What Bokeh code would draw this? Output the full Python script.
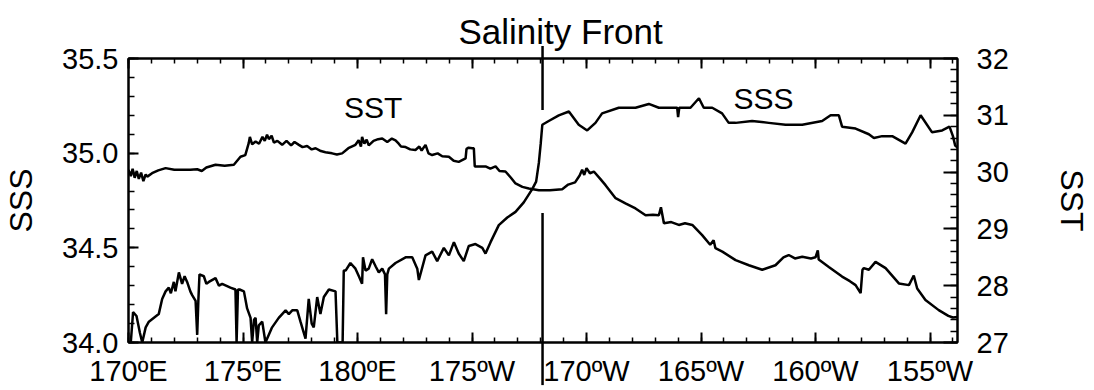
from bokeh.plotting import figure
from bokeh.models import Range1d, LinearAxis, FixedTicker, Label, PrintfTickFormatter
from bokeh.embed import file_html
from bokeh.resources import INLINE

FONT = "Liberation Sans"

# ---------------- data (longitude in degrees east, 180 = dateline) ----------------
lon_sst = [170.00, 170.10, 170.18, 170.27, 170.36, 170.45, 170.55, 170.65, 170.75, 170.82,
           171.03, 171.30, 171.62, 172.00, 172.34, 172.70, 173.00, 173.20, 173.40, 173.80,
           174.20, 174.60, 174.89, 175.10, 175.25, 175.30, 175.40, 175.55, 175.70, 175.85,
           175.95, 176.05, 176.13, 176.25, 176.35, 176.50, 176.71, 176.90, 177.10, 177.25,
           177.44, 177.60, 177.80, 178.00, 178.17, 178.40, 178.60, 178.89, 179.10, 179.33,
           179.60, 179.91, 180.05, 180.15, 180.20, 180.30, 180.40, 180.49, 180.70, 180.90,
           181.08, 181.30, 181.50, 181.66, 181.80, 181.90, 182.10, 182.30, 182.53, 182.70,
           182.80, 182.97, 183.10, 183.26, 183.50, 183.70, 183.99, 184.20, 184.42, 184.72,
           184.76, 184.85, 185.01, 185.08, 185.12, 185.35, 185.59, 185.80, 186.03, 186.20,
           186.46, 186.70, 186.90, 187.20, 187.48, 187.92, 188.40, 188.94, 189.20, 189.50,
           189.70, 189.81, 189.90, 190.00, 190.15, 190.32, 190.60, 190.83, 191.27, 191.70,
           192.14, 192.58, 192.90, 193.16, 193.25, 193.38, 193.70, 194.03, 194.30, 194.62,
           195.05, 195.40, 195.55, 195.63, 195.93, 196.51, 197.09, 197.67, 198.25, 198.60,
           198.83, 199.10, 199.42, 199.80, 200.00, 200.10, 200.14, 200.58, 201.16, 201.50,
           201.75, 201.97, 202.05, 202.11, 202.33, 202.62, 203.06, 203.64, 204.08, 204.29,
           204.44, 204.80, 205.38, 205.80, 206.00, 206.20]
sst = [30.04, 29.93, 30.06, 29.90, 30.02, 29.88, 29.99, 29.84, 29.96, 29.92,
       29.98, 30.03, 30.07, 30.04, 30.04, 30.04, 30.05, 30.02, 30.08, 30.13,
       30.11, 30.13, 30.27, 30.30, 30.51, 30.62, 30.49, 30.54, 30.50, 30.62,
       30.55, 30.66, 30.58, 30.64, 30.52, 30.55, 30.48, 30.55, 30.47, 30.53,
       30.48, 30.44, 30.46, 30.40, 30.42, 30.37, 30.35, 30.33, 30.31, 30.33,
       30.42, 30.48, 30.56, 30.45, 30.62, 30.50, 30.57, 30.47, 30.55, 30.58,
       30.59, 30.53, 30.59, 30.56, 30.50, 30.45, 30.44, 30.40, 30.39, 30.45,
       30.38, 30.48, 30.33, 30.30, 30.33, 30.28, 30.27, 30.20, 30.18, 30.24,
       30.41, 30.43, 30.42, 30.42, 30.10, 30.10, 30.10, 30.06, 30.10, 30.02,
       30.01, 29.90, 29.80, 29.74, 29.71, 29.68, 29.68, 29.70, 29.78, 29.82,
       29.94, 30.04, 29.95, 30.07, 29.98, 30.01, 29.88, 29.77, 29.54, 29.45,
       29.36, 29.24, 29.25, 29.24, 29.38, 29.10, 29.12, 29.07, 29.10, 29.07,
       28.89, 28.72, 28.80, 28.66, 28.60, 28.45, 28.36, 28.28, 28.36, 28.50,
       28.54, 28.48, 28.51, 28.48, 28.50, 28.62, 28.46, 28.33, 28.16, 28.08,
       28.01, 27.87, 28.28, 28.31, 28.28, 28.42, 28.31, 28.04, 28.01, 28.18,
       27.95, 27.75, 27.57, 27.47, 27.44, 27.45]

lon_sss = [170.10, 170.20, 170.35, 170.50, 170.60, 170.75, 170.89, 171.32, 171.47, 171.62,
           171.76, 171.85, 171.98, 172.05, 172.20, 172.34, 172.45, 172.56, 172.70, 172.78,
           172.93, 173.00, 173.05, 173.10, 173.29, 173.40, 173.51, 173.80, 173.95, 174.09,
           174.45, 174.67, 174.72, 174.78, 174.85, 175.04, 175.18, 175.33, 175.40, 175.48,
           175.55, 175.62, 175.69, 175.84, 175.98, 176.27, 176.56, 176.86, 177.00, 177.15,
           177.37, 177.51, 177.73, 177.87, 178.00, 178.09, 178.24, 178.38, 178.53, 178.75,
           179.04, 179.12, 179.35, 179.40, 179.48, 179.69, 179.91, 180.06, 180.20, 180.24,
           180.35, 180.49, 180.64, 180.80, 180.93, 181.08, 181.20, 181.25, 181.30, 181.37,
           181.66, 182.10, 182.39, 182.61, 182.68, 182.97, 183.26, 183.48, 183.77, 183.99,
           184.21, 184.42, 184.64, 184.86, 185.15, 185.45, 185.59, 185.81, 186.17, 186.54,
           186.90, 187.26, 187.63, 187.80, 187.92, 188.00, 188.07, 188.35, 188.79, 189.23,
           189.66, 190.03, 190.39, 190.68, 191.41, 192.14, 192.72, 193.16, 193.59, 193.96,
           194.00, 194.05, 194.18, 194.54, 194.91, 195.12, 195.49, 195.92, 196.21, 196.51,
           197.23, 197.96, 198.69, 199.42, 200.29, 200.66, 201.02, 201.16, 201.75, 202.33,
           202.55, 202.91, 203.35, 203.93, 204.22, 204.59, 205.09, 205.53, 205.85, 206.00,
           206.10, 206.20]
sss = [34.00, 34.16, 34.14, 34.05, 34.00, 34.08, 34.11, 34.15, 34.23, 34.27,
       34.29, 34.26, 34.32, 34.27, 34.37, 34.31, 34.35, 34.32, 34.27, 34.25,
       34.22, 34.04, 34.22, 34.36, 34.35, 34.31, 34.32, 34.34, 34.30, 34.31,
       34.29, 34.28, 34.00, 34.28, 34.28, 34.27, 34.18, 34.13, 34.00, 34.12,
       34.13, 34.00, 34.09, 34.11, 34.00, 34.08, 34.13, 34.17, 34.15, 34.17,
       34.17, 34.11, 34.02, 34.23, 34.10, 34.08, 34.24, 34.15, 34.24, 34.28,
       34.27, 34.00, 34.00, 34.38, 34.38, 34.42, 34.39, 34.35, 34.31, 34.45,
       34.38, 34.39, 34.44, 34.40, 34.37, 34.39, 34.36, 34.15, 34.36, 34.39,
       34.42, 34.45, 34.45, 34.39, 34.33, 34.46, 34.48, 34.43, 34.50, 34.46,
       34.53, 34.47, 34.43, 34.51, 34.52, 34.50, 34.47, 34.53, 34.62, 34.66,
       34.69, 34.74, 34.81, 34.85, 34.95, 35.05, 35.15, 35.17, 35.20, 35.22,
       35.15, 35.12, 35.16, 35.21, 35.24, 35.24, 35.26, 35.24, 35.24, 35.24,
       35.19, 35.24, 35.24, 35.24, 35.29, 35.24, 35.24, 35.21, 35.16, 35.16,
       35.17, 35.16, 35.15, 35.15, 35.17, 35.20, 35.20, 35.14, 35.13, 35.10,
       35.08, 35.09, 35.09, 35.05, 35.11, 35.20, 35.11, 35.12, 35.14, 35.09,
       35.04, 35.03]

x_ticks = [170, 175, 180, 185, 190, 195, 200, 205]
x_tick_labels = ["170ºE", "175ºE", "180ºE", "175ºW", "170ºW", "165ºW", "160ºW", "155ºW"]
x_minor_ticks = list(range(170, 207))
sss_ticks = [34.0, 34.5, 35.0, 35.5]
sss_minor_ticks = [round(34.0 + 0.1 * i, 1) for i in range(16)]
sst_ticks = [27, 28, 29, 30, 31, 32]
sst_minor_ticks = [round(27 + 0.2 * i, 1) for i in range(26)]

front_lon = 188.08
front_upper = [35.566, 35.228]
front_lower = [34.684, 33.775]

# ---------------- figure ----------------
p = figure(width=1094, height=390, output_backend="svg", toolbar_location=None,
           x_range=Range1d(170, 206.2), y_range=Range1d(34.0, 35.5),
           min_border_left=128, min_border_right=137, min_border_top=58, min_border_bottom=48,
           title="Salinity Front")
p.extra_y_ranges = {"sst": Range1d(27, 32)}
p.grid.visible = False
p.outline_line_color = "black"
p.outline_line_width = 2
p.background_fill_color = "white"
p.border_fill_color = "white"

p.title.align = "left"
p.title.offset = 330
p.title.text_font = FONT
p.title.text_font_size = "35px"
p.title.text_font_style = "normal"
p.title.text_color = "black"
p.title.standoff = 16


def style(ax, major_in, minor_in, size="29px"):
    ax.major_tick_in = major_in
    ax.major_tick_out = 0
    ax.minor_tick_in = minor_in
    ax.minor_tick_out = 0
    ax.axis_line_color = "black"
    ax.axis_line_width = 2
    ax.major_tick_line_color = "black"
    ax.major_tick_line_width = 2
    ax.minor_tick_line_color = "black"
    ax.minor_tick_line_width = 1.5
    ax.major_label_text_font = FONT
    ax.major_label_text_font_size = size
    ax.major_label_text_color = "black"
    ax.axis_label_text_font = FONT
    ax.axis_label_text_font_style = "normal"
    ax.axis_label_text_font_size = "32px"
    ax.axis_label_text_color = "black"


xticker = FixedTicker(ticks=x_ticks, minor_ticks=x_minor_ticks)

xb = p.xaxis[0]
xb.ticker = xticker
xb.major_label_overrides = dict(zip(x_ticks, x_tick_labels))
style(xb, 10, 5)
xb.major_label_standoff = 12

xt = LinearAxis(ticker=xticker)
style(xt, 10, 5, size="0px")
xt.major_label_standoff = 0
xt.major_label_overrides = {t: "" for t in x_ticks}
p.add_layout(xt, "above")

yl = p.yaxis[0]
yl.ticker = FixedTicker(ticks=sss_ticks, minor_ticks=sss_minor_ticks)
yl.formatter = PrintfTickFormatter(format="%.1f")
style(yl, 10, 6)
yl.major_label_standoff = 10
yl.axis_label = "SSS"
yl.axis_label_standoff = 20

yr = LinearAxis(y_range_name="sst",
                ticker=FixedTicker(ticks=sst_ticks, minor_ticks=sst_minor_ticks))
style(yr, 14, 7)
yr.major_label_standoff = 19
yr.axis_label = "SST"
yr.axis_label_standoff = 42
p.add_layout(yr, "right")

# ---------------- series ----------------
p.line(lon_sss, sss, line_color="black", line_width=2.5)
p.line(lon_sst, sst, y_range_name="sst", line_color="black", line_width=2.5)

# salinity-front marker (drawn unclipped so it pokes through the frame)
p.line([front_lon, front_lon], front_upper, line_color="black", line_width=2.5, level="overlay")
p.line([front_lon, front_lon], front_lower, line_color="black", line_width=2.5, level="overlay")

# ---------------- in-plot labels ----------------
p.add_layout(Label(x=180.68, y=35.241, text="SST", text_align="center",
                   text_baseline="middle", text_font=FONT, text_font_size="30px",
                   text_color="black"))
p.add_layout(Label(x=197.73, y=35.291, text="SSS", text_align="center",
                   text_baseline="middle", text_font=FONT, text_font_size="30px",
                   text_color="black"))

open("out.html", "w").write(file_html(p, INLINE))
